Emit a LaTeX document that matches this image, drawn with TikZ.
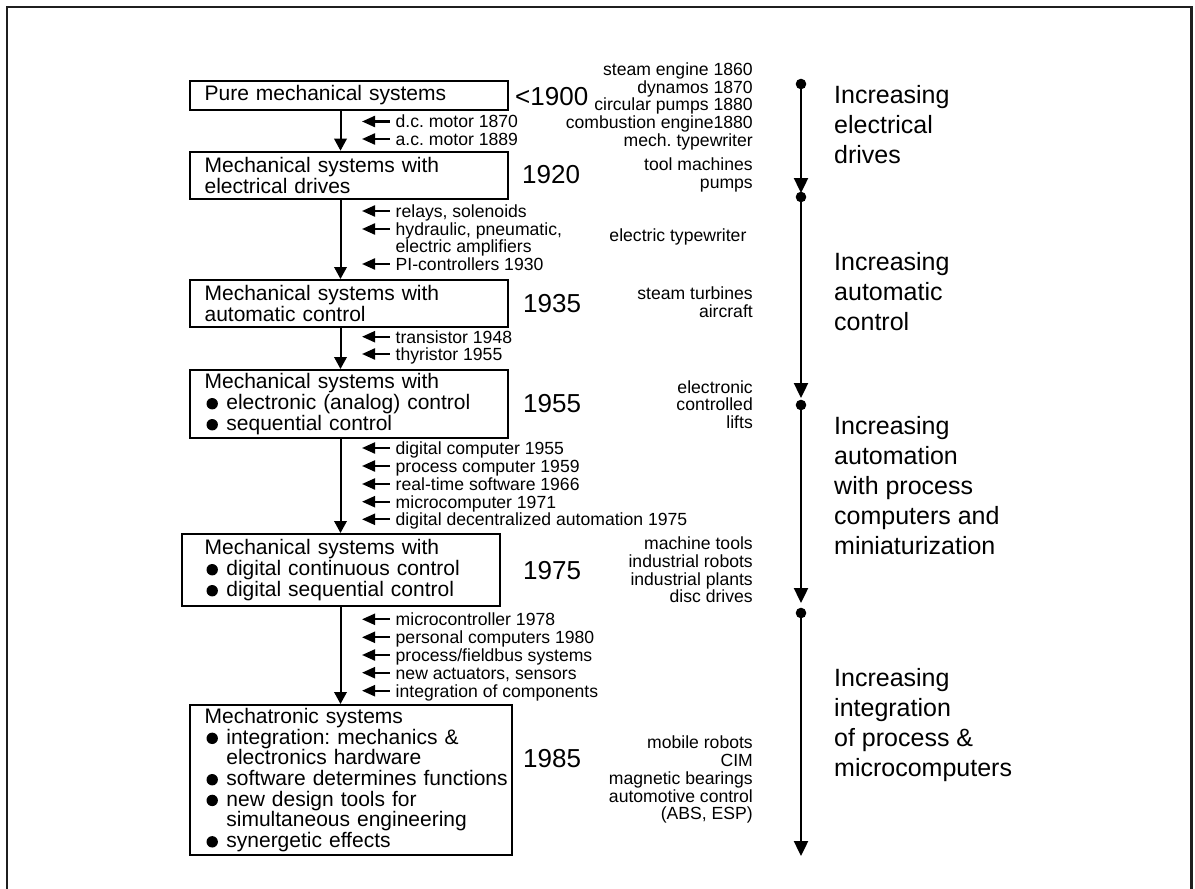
\documentclass[tikz,border=0pt]{standalone}
\usepackage{fontspec}
\setmainfont{Liberation Sans}
\usetikzlibrary{arrows.meta}
\frenchspacing

\newcommand{\bul}{\makebox[21.8pt][l]{\hspace{1.9pt}\tikz\fill (0,0) circle (5.7pt);}}
\newcommand{\hang}{\hspace*{21.8pt}}

\begin{document}
\begin{tikzpicture}[x=1pt,y=-1pt,
  stage/.style={draw, line width=2pt, anchor=north west, align=left,
    inner xsep=14.2pt, inner ysep=0pt, text width=289.2pt,
    font=\fontsize{21}{21}\selectfont},
  year/.style={anchor=base west, inner sep=0pt, font=\fontsize{26}{26}\selectfont},
  devtext/.style={anchor=west, inner sep=0pt, text height=12.6pt, text depth=0pt,
    font=\fontsize{17.6}{17.6}\selectfont},
  usetext/.style={devtext, anchor=east},
  phase/.style={anchor=base west, align=left, inner sep=0pt,
    font=\fontsize{25}{30}\selectfont},
  flow/.style={line width=2pt, -{Triangle[length=12pt,width=12.5pt]}},
  devarrow/.style={line width=2.2pt, -{Triangle[length=13pt,width=11pt]}},
  era/.style={line width=2.4pt, -{Triangle[length=15pt,width=14pt]}}]
  \useasboundingbox (0,0) rectangle (1195,889);
  % frame, cut at the bottom
  \draw[line width=2.2pt, black!88] (7,900) -- (7,7) -- (1191.5,7) -- (1191.5,900);

  % stages
  \node[stage, minimum height=28.7pt] (b1) at (189.4,80) {Pure mechanical systems};
  \node[stage, minimum height=47pt] (b2) at (189.4,150.7) {Mechanical systems with\\electrical drives};
  \node[stage, minimum height=46.7pt] (b3) at (189.4,279) {Mechanical systems with\\automatic control};
  \node[stage, minimum height=68pt] (b4) at (189.4,369)
    {Mechanical systems with\\\bul electronic (analog) control\\\bul sequential control};
  \node[stage, minimum height=72pt, inner xsep=23pt, text width=272.4pt] (b5) at (180.6,533)
    {Mechanical systems with\\\bul digital continuous control\\\bul digital sequential control};
  \node[stage, minimum height=150pt, text width=293.2pt, font=\fontsize{21}{20.7}\selectfont] (b6) at (189.4,704)
    {Mechatronic systems\\\bul integration: mechanics \&\\\hang electronics hardware\\
     \mbox{\bul software determines functions}\\\bul new design tools for\\
     \hang simultaneous engineering\\\bul synergetic effects};

  \coordinate (flowx) at (340.5,0);
  \foreach \a/\b in {b1/b2,b2/b3,b3/b4,b4/b5,b5/b6}
    \draw[flow] (\a.south -| flowx) -- (\b.north -| flowx);

  % years
  \node[year] (y1) at (515,105) {<1900};
  \node[year] (y2) at (522,183.3) {1920};
  \node[year] (y3) at (523,312.3) {1935};
  \node[year] (y4) at (523,412.7) {1955};
  \node[year] (y5) at (523,579.3) {1975};
  \node[year] (y6) at (523,767.3) {1985};

  % developments feeding in
  \coordinate (tip) at (362,0);
  \foreach \n/\y/\t in {d1/121.5/d.c. motor 1870, d2/139/a.c. motor 1889,
      d3/211/{relays, solenoids}, d4/229/{hydraulic, pneumatic,}, d5/264/PI-controllers 1930,
      d6/336.7/transistor 1948, d7/354/thyristor 1955,
      d8/448/digital computer 1955, d9/466/process computer 1959,
      d10/484/real-time software 1966, d11/501.7/microcomputer 1971,
      d12/519.3/digital decentralized automation 1975,
      d13/619.3/microcontroller 1978, d14/637.3/personal computers 1980,
      d15/655/{process/fieldbus systems}, d16/672.7/{new actuators, sensors},
      d17/690.7/integration of components}
  {
    \node[devtext] (\n) at (395.5,\y) {\t};
    \draw[devarrow] ([xshift=-6pt]\n.west) -- (\n.west -| tip);
  }
  \node[devtext] (d4b) at (395.5,246) {electric amplifiers};

  % applications
  \foreach \n/\y/\t in {u1/69/steam engine 1860, u2/87/dynamos 1870,
      u3/104.5/circular pumps 1880, u4/122/combustion engine1880, u5/140/mech. typewriter,
      u6/164/tool machines, u7/182/pumps,
      u9/293.5/steam turbines, u10/311.5/aircraft,
      u11/386.7/electronic, u12/404/controlled, u13/421.7/lifts,
      u14/543.3/machine tools, u15/561.3/industrial robots, u16/579/industrial plants,
      u17/596.5/disc drives,
      u18/742.3/mobile robots, u19/760/CIM, u20/778.3/magnetic bearings,
      u21/796/automotive control, u22/813.5/{(ABS, ESP)}}
    \node[usetext] (\n) at (753,\y) {\t};
  \node[usetext] (u8) at (746.6,235) {electric typewriter};

  % time axis
  \foreach \s/\e/\i in {84/193/1,197/398/2,405/603/3,613/856/4}
  {
    \coordinate (s\i) at (801,\s);
    \coordinate (e\i) at (801,\e);
    \draw[era] (s\i) -- (e\i);
    \fill (s\i) circle (5.3pt);
  }

  % base of a phase text is its last line
  \node[phase] (p1) at (834,163.3) {Increasing\\electrical\\drives};
  \node[phase] (p2) at (834,330.5) {Increasing\\automatic\\control};
  \node[phase] (p3) at (834,554) {Increasing\\automation\\with process\\computers and\\miniaturization};
  \node[phase] (p4) at (834,776.5) {Increasing\\integration\\of process \&\\microcomputers};
\end{tikzpicture}
\end{document}
